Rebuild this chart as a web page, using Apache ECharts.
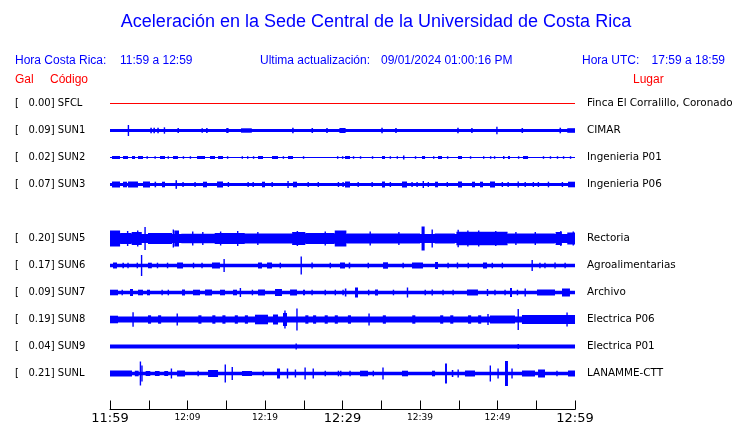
<!DOCTYPE html>
<html><head><meta charset="utf-8">
<script src="https://cdn.jsdelivr.net/npm/echarts@6/dist/echarts.min.js"></script>
<style>html,body{margin:0;padding:0;background:#fff}#c{width:740px;height:423px}</style>
</head><body><div id="c"></div>
<script>
// ---------- data ----------
const titleText = 'Aceleración en la Sede Central de la Universidad de Costa Rica';
const horaCR = '11:59 a 12:59';
const horaUTC = '17:59 a 18:59';
const lastUpdate = '09/01/2024 01:00:16 PM';
const codes = ['SFCL','SUN1','SUN2','SUN3','','SUN5','SUN6','SUN7','SUN8','SUN9','SUNL'];
const gal = [0.00,0.09,0.02,0.07,null,0.20,0.17,0.09,0.19,0.04,0.21];
const places = ['Finca El Corralillo, Coronado','CIMAR','Ingenieria P01','Ingenieria P06','','Rectoria','Agroalimentarias','Archivo','Electrica P06','Electrica P01','LANAMME-CTT'];
const tickLabels = ['11:59','12:09','12:19','12:29','12:39','12:49','12:59'];
// noise floor half-amplitude of each trace (trace units)
const noiseFloor = [0.5,1.6,0.5,1.5,null,4.5,1.8,1.8,3,2,1.8];
// bursts: [startMinute, endMinute, halfAmplitude]
const sfclBursts = [];
const sun1Bursts = [[2.3,2.45,5.5],[5.2,5.4,2.8],[5.6,5.8,2.8],[6.1,6.3,2.8],[6.95,7.1,3.2],[8.7,8.9,2.5],[11.8,12.0,2.3],[12.4,12.6,2.5],[15.0,15.3,2.5],[16.9,18.3,2.2],[23.5,23.7,2.8],[26.0,26.2,2.5],[27.9,28.1,2.5],[29.6,30.4,2.5],[35.0,35.2,2.8],[36.8,37.0,2.5],[44.8,45.0,2.8],[46.6,46.8,2.5],[49.85,50.0,3.8],[53.1,53.3,2.5],[58.0,58.2,2.8],[59.0,60,2.3]];
const sun2Bursts = [[0.26,1.29,1.5],[1.68,2.32,1.5],[2.84,3.23,1.5],[3.61,4.26,1.5],[4.7,4.9,1.3],[5.75,5.9,1.3],[6.45,7.1,1.5],[7.45,7.6,1.3],[8.13,8.77,1.5],[9.4,9.55,1.3],[10.3,10.45,1.3],[11.23,12.26,1.5],[12.9,13.55,1.5],[13.94,14.58,1.5],[15.1,15.25,1.3],[17.0,17.15,1.3],[17.68,17.85,1.3],[18.45,18.6,1.3],[19.1,19.74,1.5],[20.9,21.68,1.5],[22.3,22.45,1.3],[22.97,23.61,1.5],[24.9,25.05,1.3],[29.3,29.45,1.3],[29.94,30.1,1.3],[30.32,30.97,1.5],[31.35,31.5,1.3],[32.26,32.4,1.3],[33.8,33.95,1.3],[35.1,35.48,1.5],[36.1,36.25,1.3],[37.0,37.15,1.3],[37.8,38.0,2],[39.35,39.5,1.3],[40.26,40.65,1.5],[41.68,41.85,1.3],[42.32,42.84,1.5],[43.48,43.65,1.3],[44.9,45.42,1.5],[46.45,46.6,1.3],[48.13,48.3,1.3],[49.03,49.2,1.3],[49.55,49.7,1.3],[50.71,50.9,1.5],[51.35,51.61,1.5],[52.65,52.8,1.3],[53.29,53.94,1.5],[55.87,56.0,1.3],[56.77,56.9,1.3],[57.68,57.8,1.3],[58.45,58.6,1.3],[59.35,59.5,1.3]];
const sun3Bursts = [[0.26,1.29,3],[1.68,2.2,2.8],[2.32,3.61,3],[4.26,5.16,3],[5.75,5.95,2.8],[6.71,7.1,2.8],[8.45,8.65,4.3],[9.35,9.5,2.5],[10.9,11.05,2.5],[12.0,12.52,2.8],[13.81,14.58,3],[15.2,15.35,2.5],[17.75,17.9,2.5],[18.4,18.55,2.5],[19.61,20.0,2.8],[20.85,21.0,2.5],[22.9,23.05,3.5],[23.61,24.13,2.8],[25.5,25.65,2.5],[26.8,26.95,2.5],[29.4,29.55,2.5],[30.0,30.15,2.5],[30.32,30.97,3],[31.95,32.1,2.5],[33.75,33.9,2.5],[35.1,35.48,3],[36.1,36.25,2.5],[37.68,38.32,3],[38.9,39.05,2.5],[39.55,39.7,2.5],[40.35,40.5,3.5],[41.0,41.15,2.5],[41.94,42.32,2.8],[43.45,43.6,2.5],[44.9,45.42,3],[46.71,47.1,2.8],[47.74,48.13,2.8],[49.03,49.68,3],[50.55,50.7,2.5],[51.3,51.45,2.5],[52.6,52.75,3],[53.5,53.65,2.5],[54.55,54.7,2.5],[55.2,55.35,2.5],[56.5,56.65,2.8],[58.3,58.45,2.5],[59.1,60,2.8]];
const sun4Bursts = [];
const sun5Bursts = [[0,1.3,8],[1.3,2.8,5.5],[2.8,4.1,6.5],[4.45,4.6,11.5],[4.9,8.0,5.5],[8.3,8.9,8],[9.2,13.5,4.8],[13.5,17.4,5.5],[16.4,16.55,7.5],[17.4,23.5,5],[23.5,25.2,6.5],[25.2,29.0,5.5],[29.0,30.5,8],[30.5,40.0,5],[40.2,40.6,12],[41.5,41.65,9],[41.9,44.5,5],[44.7,51.3,6.8],[44.85,45.0,8.7],[51.3,57.4,5],[57.5,58.3,6.5],[59.0,60,6],[2.2,2.35,7.5],[3.5,3.65,8],[8.1,8.25,9],[10.6,10.75,7],[11.9,12.05,6.5],[14.2,14.35,7],[19.0,19.15,6.5],[24.1,24.25,7.5],[27.7,27.85,7],[33.5,33.65,7],[37.2,37.35,6.5],[46.1,46.25,8],[47.5,47.65,8],[49.7,49.85,7.5],[52.3,52.45,6.5],[54.8,54.95,6.5],[58.1,58.25,7.5],[59.7,59.85,7]];
const sun6Bursts = [[0.39,0.9,3],[1.6,1.8,2.8],[2.25,2.4,2.8],[3.45,3.6,2.8],[4.0,4.15,10.5],[4.9,5.4,2.8],[6.05,6.2,2.8],[7.35,7.5,2.8],[8.65,9.42,3],[10.7,10.85,2.8],[11.8,11.95,2.8],[13.16,14.19,3],[14.65,14.8,6.5],[19.1,19.61,3],[20.26,20.9,3],[21.9,22.05,2.8],[24.6,24.75,9],[26.0,26.15,3],[28.35,28.5,2.8],[29.68,30.32,3],[30.8,31.0,3],[33.25,33.4,2.8],[35.23,35.87,3.2],[37.75,37.9,2.8],[38.97,40.39,3],[41.94,42.32,3.5],[43.55,43.7,2.8],[44.77,44.9,3],[46.15,46.3,2.8],[48.13,48.65,3],[49.25,49.4,2.8],[50.55,50.7,2.8],[54.4,54.55,5.5],[55.4,55.55,2.8],[56.05,56.2,2.8],[57.35,57.5,3],[58.65,58.8,2.8]];
const sun7Bursts = [[0,1.03,2.8],[1.5,1.65,2.8],[2.58,2.97,3.5],[3.61,4.26,2.8],[4.77,5.16,2.8],[6.65,6.8,2.8],[7.45,7.6,2.8],[9.29,9.68,3],[10.71,11.61,2.8],[12.26,13.16,3],[14.19,14.84,2.8],[15.87,16.39,2.8],[16.75,16.9,4.5],[18.3,18.45,2.8],[19.1,20.0,3],[21.29,22.19,3.5],[23.23,24.13,3],[24.9,25.16,2.8],[26.0,26.15,2.8],[27.7,27.85,2.8],[29.0,29.15,2.8],[30.0,30.15,2.8],[30.3,30.5,4],[31.61,32.0,5],[33.3,33.45,2.8],[34.19,34.58,3],[36.5,36.65,2.8],[38.32,38.45,5],[40.6,40.75,2.8],[41.5,41.65,3],[42.9,43.05,2.8],[44.2,44.35,2.8],[46.06,47.48,3],[48.65,48.77,3.5],[49.6,49.75,2.8],[50.9,51.05,2.8],[51.61,51.87,4.5],[52.5,52.65,2.8],[53.5,53.65,4],[55.1,57.42,3],[58.32,59.35,4]];
const sun8Bursts = [[0,1.03,3.8],[2.9,3.05,7.3],[4.9,5.3,4.2],[6.2,6.6,4.2],[8.6,8.75,6],[11.4,11.8,4.2],[13.2,13.6,4.2],[14.5,14.9,4.2],[16.1,16.5,4.2],[17.4,17.8,4.2],[18.71,20.39,4.8],[21.03,21.68,5],[22.32,22.84,6.5],[22.5,22.65,9],[24.05,24.2,11],[25.2,25.6,4.2],[26.2,26.6,4.2],[27.7,28.1,4.2],[29.0,29.4,4.2],[30.7,31.1,4.2],[33.35,33.5,6],[35.2,35.6,4.2],[39.0,39.4,4.2],[42.6,43.0,4.2],[43.9,44.3,4.2],[46.2,46.6,4.2],[47.5,47.9,4.2],[48.7,48.85,5.5],[49.03,52.26,4],[52.6,52.75,10.5],[53.16,60,4.5],[58.9,59.05,7]];
const sun9Bursts = [[23.95,24.1,3],[52.6,52.75,2.5]];
const sunlBursts = [[0,2.84,3],[3.2,3.7,2.8],[3.85,4.0,12],[4.05,4.2,8],[4.6,5.2,2.5],[5.8,6.4,2.5],[7.0,7.5,2.5],[7.85,8.0,5],[8.65,9.68,3],[11.3,11.45,2.8],[12.65,13.94,3.5],[14.8,14.95,9],[15.7,15.85,6.5],[17.03,18.32,2.5],[19.7,19.85,2.8],[21.55,21.94,5],[22.84,22.97,5],[23.85,24.0,4],[25.1,25.25,6],[26.15,26.3,5],[27.7,27.85,2.8],[29.4,29.55,2.8],[29.7,29.85,2.8],[30.9,31.05,2.8],[32.26,33.29,2.8],[33.9,34.05,2.8],[35.15,35.3,6],[37.68,38.45,2.8],[41.55,41.94,2.8],[43.23,43.48,10],[44.1,44.3,3.5],[44.85,45.0,4],[45.8,47.1,3],[49.0,49.15,8],[50.0,50.15,5],[50.97,51.35,12.5],[51.8,51.95,5],[53.16,54.84,3],[55.23,56.13,4],[57.6,57.75,2.8],[59.1,60,3]];
const burstsByRow = [sfclBursts,sun1Bursts,sun2Bursts,sun3Bursts,sun4Bursts,sun5Bursts,sun6Bursts,sun7Bursts,sun8Bursts,sun9Bursts,sunlBursts];

// ---------- presentation ----------
const TRACE_UNITS_PER_ROW = 27;
const BLUE = '#0000ff', RED = '#ff0000';
const traceColors = codes.map((c, i) => i === 0 ? RED : BLUE);

function renderItem(params, api) {
  const row = api.value(0), t0 = api.value(1), t1 = api.value(2), h = api.value(3);
  const a = api.coord([t0, row - h / TRACE_UNITS_PER_ROW]);
  const b = api.coord([t1, row + h / TRACE_UNITS_PER_ROW]);
  let x = Math.min(a[0], b[0]), w = Math.abs(b[0] - a[0]);
  let y = Math.min(a[1], b[1]), hh = Math.abs(b[1] - a[1]);
  if (w < 1.4) { x -= (1.4 - w) / 2; w = 1.4; }
  if (hh < 1) { y = (a[1] + b[1]) / 2 - 0.5; hh = 1; }
  return { type: 'rect', shape: { x, y, width: w, height: hh }, style: { fill: api.visual('color') } };
}

const series = [];
codes.forEach((code, i) => {
  if (noiseFloor[i] == null) return;
  const data = [[i, 0, 60, noiseFloor[i]]].concat(burstsByRow[i].map(b => [i, b[0], b[1], b[2]]));
  series.push({
    type: 'custom', name: code, xAxisIndex: 0, yAxisIndex: 2,
    renderItem, data, silent: true, animation: false,
    itemStyle: { color: traceColors[i] },
    encode: { x: [1, 2], y: 0 }
  });
});

const sans = '"Liberation Sans", Arial, sans-serif';
const dejavu = '"DejaVu Sans", sans-serif';
function txt(text, x, y, color, size, family, align) {
  return { type: 'text', x, y, silent: true,
    style: { text, fill: color, font: size + 'px ' + family, textAlign: align || 'left', align: align || 'left', textVerticalAlign: 'middle', verticalAlign: 'middle' } };
}

const chart = echarts.init(document.getElementById('c'), null, { renderer: 'canvas' });
chart.setOption({
  animation: false,
  backgroundColor: '#ffffff',
  grid: { left: 110, right: 165, top: 90, height: 297, containLabel: false, outerBoundsMode: 'none' },
  xAxis: {
    type: 'value', min: 0, max: 60, interval: 5, position: 'bottom', offset: 22.5,
    axisLine: { show: true, onZero: false, lineStyle: { color: '#000', width: 1 } },
    axisTick: { show: true, inside: true, length: 9, lineStyle: { color: '#000', width: 1 } },
    splitLine: { show: false },
    axisLabel: {
      margin: 3, hideOverlap: false, showMinLabel: true, showMaxLabel: true,
      formatter: v => (v % 10) ? '' : ((v % 30) ? '{s|' + tickLabels[v / 10] + '}' : '{b|' + tickLabels[v / 10] + '}'),
      rich: {
        s: { fontSize: 9, fontFamily: dejavu, color: '#000', lineHeight: 11 },
        b: { fontSize: 13, fontFamily: dejavu, color: '#000', lineHeight: 13 }
      }
    }
  },
  yAxis: [
    { type: 'category', data: codes, inverse: true, position: 'left',
      axisLine: { show: false }, axisTick: { show: false }, splitLine: { show: false },
      axisLabel: { interval: 0, align: 'left', margin: 95, fontFamily: dejavu, fontSize: 10, color: '#000',
        formatter: (v, i) => gal[i] == null ? '' : '[   ' + gal[i].toFixed(2) + '] ' + codes[i] } },
    { type: 'category', data: places, inverse: true, position: 'right',
      axisLine: { show: false }, axisTick: { show: false }, splitLine: { show: false },
      axisLabel: { interval: 0, align: 'left', margin: 12, fontFamily: dejavu, fontSize: 10.4, color: '#000' } },
    { type: 'value', min: -0.5, max: 10.5, inverse: true, show: false }
  ],
  graphic: [
    txt(titleText, 376, 22, BLUE, 18, sans, 'center'),
    txt('Hora Costa Rica:', 15, 61, BLUE, 12, sans),
    txt(horaCR, 120, 61, BLUE, 12, sans),
    txt('Ultima actualización:', 260, 61, BLUE, 12, sans),
    txt(lastUpdate, 381, 61, BLUE, 12, sans),
    txt('Hora UTC:', 582, 61, BLUE, 12, sans),
    txt(horaUTC, 725, 61, BLUE, 12, sans, 'right'),
    txt('Gal', 15, 80, RED, 12, sans),
    txt('Código', 50, 80, RED, 12, sans),
    txt('Lugar', 633, 80, RED, 12, sans)
  ],
  series
});
</script>
</body></html>
